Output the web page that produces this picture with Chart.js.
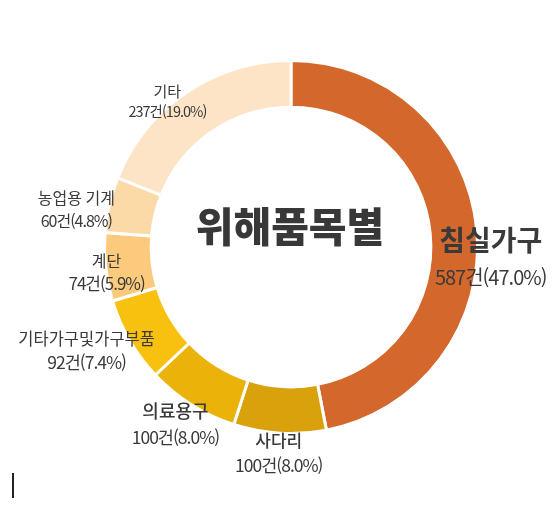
<!DOCTYPE html>
<html lang="ko">
  <head>
    <meta charset="UTF-8" />
    <title>위해품목별</title>
    <script src="https://cdn.jsdelivr.net/npm/chart.js"></script>
    <style>
      body {
        margin: 0;
        padding: 0;
        background: #fff;
      }
      .wrap {
        position: relative;
        width: 560px;
        height: 513px;
      }
      .cursor {
        position: absolute;
        left: 12px;
        top: 473px;
        width: 2px;
        height: 25px;
        background: #222;
      }
    </style>
  </head>
  <body>
    <div class="wrap">
      <canvas id="harmChart"></canvas>
      <div class="cursor"></div>
    </div>

    <script>
      // 위해품목별 건수 (12시 방향부터 시계방향)
      const categories = ["침실가구", "사다리", "의료용구", "기타가구및가구부품", "계단", "농업용 기계", "기타"];
      const counts = [587, 100, 100, 92, 74, 60, 237];
      const percents = ["47.0", "8.0", "8.0", "7.4", "5.9", "4.8", "19.0"];

      const colors = ["#d4672b", "#d9a20c", "#ebb20a", "#f8c10f", "#fbca7c", "#fcdaa8", "#fde4c6"];

      // label offsets from the outer edge of each slice's middle
      const labelStyle = [
        { dx: 14, dy: 11, name: 28, value: 20, gap: 37, weight: 700 },
        { dx: -1, dy: 7, name: 17, value: 17.5, gap: 25, weight: 500 },
        { dx: -16, dy: 6, name: 18, value: 17.5, gap: 27, weight: 500 },
        { dx: -43, dy: -2, name: 16.5, value: 17.5, gap: 24, weight: 400 },
        { dx: 1, dy: -6, name: 16, value: 17, gap: 22, weight: 400 },
        { dx: -33, dy: -7, name: 16, value: 16, gap: 23, weight: 400 },
        { dx: -19, dy: -1, name: 15, value: 14.5, gap: 20, weight: 400 },
      ];

      const sliceLabels = {
        id: "sliceLabels",
        afterDraw(chart) {
          const ctx = chart.ctx;
          const arcs = chart.getDatasetMeta(0).data;
          ctx.save();
          ctx.textAlign = "center";
          ctx.textBaseline = "middle";
          ctx.fillStyle = "#3a3a3a";
          arcs.forEach((arc, i) => {
            const s = labelStyle[i];
            const mid = (arc.startAngle + arc.endAngle) / 2;
            const x = arc.x + Math.cos(mid) * arc.outerRadius + s.dx;
            const y = arc.y + Math.sin(mid) * arc.outerRadius + s.dy;
            ctx.letterSpacing = "0px";
            ctx.font = s.weight + " " + s.name + "px 'Noto Sans CJK KR'";
            ctx.fillText(categories[i], x, y);
            ctx.letterSpacing = "-1px";
            ctx.font = "400 " + s.value + "px 'Noto Sans CJK KR'";
            ctx.fillText(counts[i] + "건(" + percents[i] + "%)", x, y + s.gap);
          });

          // center title
          const a = arcs[0];
          ctx.letterSpacing = "0px";
          ctx.font = "900 41px 'Noto Sans CJK KR'";
          ctx.fillStyle = "#383838";
          ctx.fillText("위해품목별", a.x - 1, a.y - 21);
          ctx.restore();
        },
      };

      new Chart(document.getElementById("harmChart"), {
        type: "doughnut",
        data: {
          labels: categories,
          datasets: [
            {
              data: counts,
              backgroundColor: colors,
              borderColor: "#ffffff",
              borderWidth: 3,
            },
          ],
        },
        options: {
          responsive: true,
          maintainAspectRatio: false,
          animation: false,
          cutout: "75%",
          layout: {
            padding: { left: 103, right: 81, top: 59, bottom: 78 },
          },
          plugins: {
            legend: { display: false },
            tooltip: { enabled: false },
          },
        },
        plugins: [sliceLabels],
      });
    </script>
  </body>
</html>
